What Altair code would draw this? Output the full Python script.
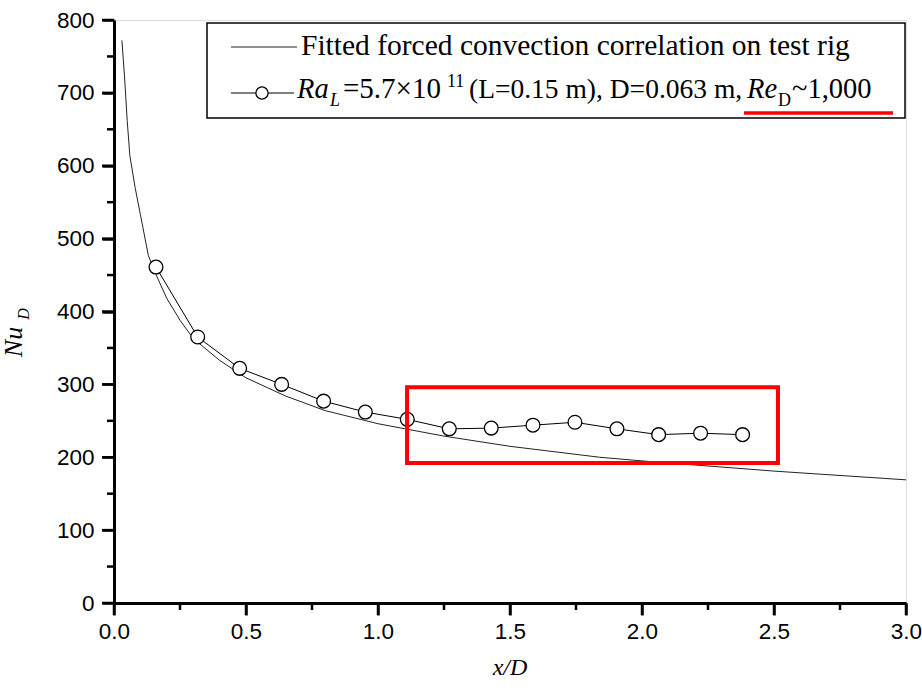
import altair as alt
import pandas as pd

# ---- data ----
curve_x = [0.03, 0.04, 0.05, 0.06, 0.08, 0.10, 0.13, 0.16, 0.20, 0.25, 0.30, 0.40,
           0.50, 0.65, 0.80, 1.00, 1.25, 1.50, 1.84, 2.00, 2.25, 2.50, 2.75, 3.00]
curve_y = [772, 722, 662, 614, 570, 533, 477, 450, 418, 388, 363, 333,
           309, 284, 264, 246, 229, 215, 200, 195, 188, 181, 175, 169]

pts_x = [0.159, 0.317, 0.476, 0.635, 0.794, 0.952, 1.111, 1.270, 1.429, 1.587,
         1.746, 1.905, 2.063, 2.222, 2.381]
pts_y = [461, 365, 322, 300, 277, 262, 252, 239, 240, 244, 248, 239, 231, 233, 231]

x_major = [0.0, 0.5, 1.0, 1.5, 2.0, 2.5, 3.0]
x_minor = [0.25, 0.75, 1.25, 1.75, 2.25, 2.75]
y_major = [0, 100, 200, 300, 400, 500, 600, 700, 800]
y_minor = [50, 150, 250, 350, 450, 550, 650, 750]

box_x = [1.11, 2.515]
box_y = [192, 296]

legend1 = "Fitted forced convection correlation on test rig"

W, H = 792, 583
SERIF = "Liberation Serif"
SANS = "Liberation Sans"

xs = alt.Scale(domain=[0, 3], nice=False, zero=False)
ys = alt.Scale(domain=[0, 800], nice=False, zero=False)

axis_common = dict(
    title=None, grid=False, domainColor="black", domainWidth=3,
    tickColor="black", tickWidth=2.5, tickSize=12,
    labelColor="black", labelFont=SANS, labelFontSize=22.5,
    labelFlush=False, labelOverlap=False, labelBound=False,
)
xaxis = alt.Axis(values=x_major, format=".1f", labelPadding=5, orient="bottom", **axis_common)
yaxis = alt.Axis(values=y_major, format="d", labelPadding=8, orient="left", **axis_common)

df_curve = pd.DataFrame({"x": curve_x, "y": curve_y})
df_pts = pd.DataFrame({"x": pts_x, "y": pts_y})
df_xminor = pd.DataFrame({"v": x_minor})
df_yminor = pd.DataFrame({"v": y_minor})
df_xmajor = pd.DataFrame({"v": x_major})
df_ymajor = pd.DataFrame({"v": y_major})
df_box = pd.DataFrame({"x1": [box_x[0]], "x2": [box_x[1]], "y1": [box_y[0]], "y2": [box_y[1]]})
one = pd.DataFrame({"k": [0]})

curve = alt.Chart(df_curve).mark_line(color="#222222", strokeWidth=1).encode(
    x=alt.X("x:Q", scale=xs, axis=xaxis),
    y=alt.Y("y:Q", scale=ys, axis=yaxis),
)

pline = alt.Chart(df_pts).mark_line(color="black", strokeWidth=1).encode(
    x=alt.X("x:Q", scale=xs, axis=None),
    y=alt.Y("y:Q", scale=ys, axis=None),
)
pmark = alt.Chart(df_pts).mark_point(
    shape="circle", size=190, fill="white", fillOpacity=1, stroke="black",
    strokeWidth=1.3, opacity=1
).encode(
    x=alt.X("x:Q", scale=xs, axis=None),
    y=alt.Y("y:Q", scale=ys, axis=None),
)


def xticks(df, length):
    return alt.Chart(df).mark_rule(color="black", strokeWidth=2.5).encode(
        x=alt.X("v:Q", scale=xs, axis=None),
        y=alt.value(H), y2=alt.value(H + length),
    )


def yticks(df, length):
    return alt.Chart(df).mark_rule(color="black", strokeWidth=2.5).encode(
        y=alt.Y("v:Q", scale=ys, axis=None),
        x=alt.value(-length), x2=alt.value(0),
    )


tick_layers = [xticks(df_xminor, 7), yticks(df_yminor, 7),
               xticks(df_xmajor, 12), yticks(df_ymajor, 12)]

redbox = alt.Chart(df_box).mark_rect(fillOpacity=0, stroke="#ff0000", strokeWidth=4).encode(
    x=alt.X("x1:Q", scale=xs, axis=None), x2="x2:Q",
    y=alt.Y("y1:Q", scale=ys, axis=None), y2="y2:Q",
)

# ---- custom legend ----
lbox = alt.Chart(one).mark_rect(fill="white", stroke="black", strokeWidth=1.5).encode(
    x=alt.value(93), x2=alt.value(791), y=alt.value(3), y2=alt.value(98)
)
l1line = alt.Chart(one).mark_rule(color="#222222", strokeWidth=1.2).encode(
    x=alt.value(117), x2=alt.value(183), y=alt.value(27)
)
l2line = alt.Chart(one).mark_rule(color="black", strokeWidth=1.2).encode(
    x=alt.value(117), x2=alt.value(180), y=alt.value(73)
)
l2pt = alt.Chart(one).mark_point(
    shape="circle", size=150, fill="white", fillOpacity=1, stroke="black", strokeWidth=1.3, opacity=1
).encode(x=alt.value(148), y=alt.value(73))


def txt(s, x, y, size, style="normal", angle=0, align="left"):
    return alt.Chart(pd.DataFrame({"t": [s]})).mark_text(
        font=SERIF, fontSize=size, fontStyle=style, color="black",
        align=align, baseline="alphabetic", angle=angle
    ).encode(text="t:N", x=alt.value(x), y=alt.value(y))


leg = [
    txt(legend1, 187, 35, 29.5),
    txt("Ra", 183, 78, 28.5, "italic"),
    txt("L", 216, 86, 18, "italic"),
    txt("=5.7\u00d710", 229, 78, 29),
    txt("11", 333, 67, 18),
    txt("(L=0.15 m), D=0.063 m,", 355, 78, 27.5),
    txt("Re", 633, 78, 28.5, "italic"),
    txt("D", 664, 86, 18),
    txt("~1,000", 678, 78, 28.5),
]
uline = alt.Chart(one).mark_rule(color="#ff0000", strokeWidth=3.5).encode(
    x=alt.value(630), x2=alt.value(779), y=alt.value(93)
)

titles = [
    txt("x/D", W / 2, 655, 24, "italic", align="center"),
    txt("Nu", -92, 322, 26, "italic", angle=270, align="center"),
    txt("D", -85, 294, 16, "italic", angle=270, align="center"),
]

chart = alt.layer(
    curve, pline, pmark, redbox, lbox, l1line, l2line, l2pt, *leg, uline,
    *tick_layers, *titles
).resolve_axis(x="independent", y="independent").properties(
    width=W, height=H,
    padding={"left": 114, "top": 20, "right": 16, "bottom": 88},
    autosize=alt.AutoSizeParams(type="none"),
).configure_view(stroke=None).configure(background="white")

chart.save("out.html", embed_options={"renderer": "svg", "actions": False})
